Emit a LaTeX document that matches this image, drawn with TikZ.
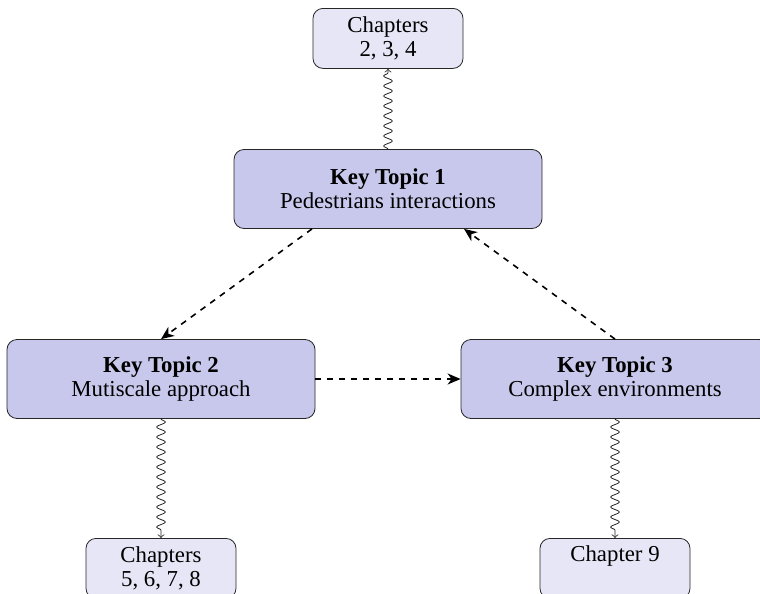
\documentclass[tikz,border=0pt]{standalone}
\usepackage{fontspec}
\setmainfont{Liberation Serif}
\usetikzlibrary{decorations.pathmorphing, arrows.meta}

\definecolor{keyfill}{RGB}{200,200,236}
\definecolor{chapfill}{RGB}{230,230,246}

\tikzset{
  keybox/.style={draw=black!85, fill=keyfill, rounded corners=5pt, align=center,
    font=\fontsize{11.4pt}{12pt}\selectfont,
    minimum width=154pt, minimum height=39.5pt},
  chapbox/.style={draw=black!85, fill=chapfill, rounded corners=5pt, align=center,
    font=\fontsize{11.4pt}{12pt}\selectfont,
    minimum width=75pt, minimum height=30pt, anchor=north},
  link/.style={thick, dashed, ->},
  refer/.style={black!85, -to, decorate,
    decoration={snake, amplitude=2.2pt, segment length=5pt, post length=2pt}}
}

\begin{document}
\begin{tikzpicture}[x=1pt, y=1pt, >={Stealth[length=6.5pt, width=5.5pt, inset=2pt]}]
  \useasboundingbox (0,0) rectangle (380,-297);

  \node[keybox] (kt1) at (194,-94.5) {\textbf{Key Topic 1}\\Pedestrians interactions};
  \node[keybox] (kt2) at (80.5,-189.5) {\textbf{Key Topic 2}\\Mutiscale approach};
  \node[keybox] (kt3) at (307.5,-189.5) {\textbf{Key Topic 3}\\Complex environments};

  \node[chapbox] (ch1) at (194,-4) {Chapters\\2, 3, 4};
  \node[chapbox] (ch2) at (80.5,-269) {Chapters\\5, 6, 7, 8};
  \node[chapbox, text depth=15.3pt] (ch3) at (307.5,-269) {Chapter 9};

  % links between the key topics
  \draw[link] ([xshift=-38pt]kt1.south) -- (kt2.north);
  \draw[link] (kt2.east) -- (kt3.west);
  \draw[link] (kt3.north) -- ([xshift=38pt]kt1.south);

  % chapters
  \draw[refer] (kt1.north) -- (ch1.south);
  \draw[refer] (kt2.south) -- (ch2.north);
  \draw[refer] (kt3.south) -- (ch3.north);
\end{tikzpicture}
\end{document}
